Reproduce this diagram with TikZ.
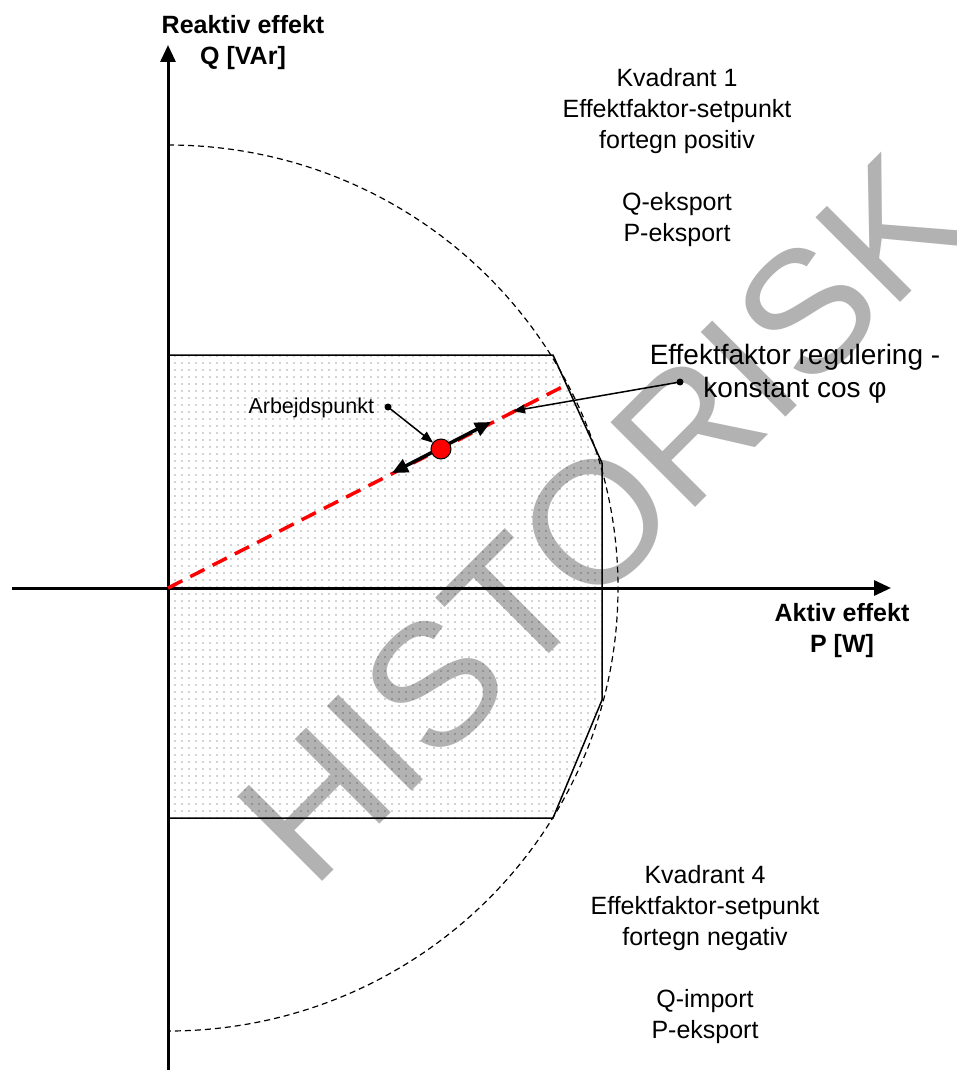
\documentclass[tikz,border=0pt]{standalone}
\usepackage{fontspec}
\setmainfont{Liberation Sans}
\usetikzlibrary{arrows.meta,patterns.meta}
\begin{document}
\begin{tikzpicture}[x=1pt,y=-1pt,
  every node/.style={inner sep=0pt,outer sep=0pt},
  axisline/.style={line width=3pt,-{Triangle[length=17pt,width=15pt]}},
  regionfill/.style={pattern={Dots[distance=7pt,radius=0.85pt]},pattern color=black!35},
  regionline/.style={line width=1.5pt,line join=miter},
  limitcurve/.style={line width=1.2pt,dash pattern=on 6pt off 4pt},
  pfline/.style={red,line width=3.5pt,dash pattern=on 16pt off 9pt},
  movearrow/.style={line width=3.5pt,{Triangle[length=16pt,width=14pt]}-{Triangle[length=16pt,width=14pt]}},
  callout/.style={line width=1.5pt,-{Triangle[length=12pt,width=9pt]}},
  calloutdot/.style={circle,fill=black,minimum size=7pt},
  quadtext/.style={align=center,font=\fontsize{25}{31}\selectfont},
  axistext/.style={align=center,font=\bfseries\fontsize{25}{31}\selectfont},
]
\useasboundingbox (0,0) rectangle (957,1070);
\fill[white] (0,0) rectangle (957,1070);

% operating region
\fill[regionfill] (168,355) -- (553,355) -- (602,463) -- (602,700) -- (553,818) -- (168,818) -- cycle;
\draw[regionline] (168,355) -- (553,355) -- (602,463) -- (602,700) -- (553,818) -- (168,818);

% origin and limit curve
\coordinate (O) at (168,588);
\draw[limitcurve] (O) ++(0,-443) arc[start angle=-90,end angle=90,x radius=450,y radius=443];

% axes
\coordinate (ybot) at (168,1070);
\coordinate (ytop) at (168,45);
\coordinate (xleft) at (12,588);
\coordinate (xright) at (891,588);
\draw[axisline] (ybot) -- (ytop);
\draw[axisline] (xleft) -- (xright);

% constant power factor line
\coordinate (pfend) at (566,385);
\draw[pfline] (O) -- (pfend);

% operating point with movement arrows
\coordinate (mvl) at (392,473);
\coordinate (mvr) at (491,422);
\draw[movearrow] (mvl) -- (mvr);
\node[circle,fill=red,draw=black,line width=1pt,minimum size=20pt] (op) at (441,449) {};

% labels
\node[anchor=north,axistext] (ylab) at (243,15) {Reaktiv effekt\\Q [VAr]};
\node[anchor=north,axistext] (xlab) at (842,603) {Aktiv effekt\\P [W]};
\node[anchor=north,quadtext] (q1) at (677,68) {Kvadrant 1\\Effektfaktor-setpunkt\\fortegn positiv\\[31pt]Q-eksport\\P-eksport};
\node[anchor=north,quadtext] (q4) at (705,865) {Kvadrant 4\\Effektfaktor-setpunkt\\fortegn negativ\\[31pt]Q-import\\P-eksport};
\node[anchor=north,align=center,font=\fontsize{28}{33}\selectfont] (pflab) at (795,344) {Effektfaktor regulering -\\konstant cos φ};
\node[anchor=base east,font=\fontsize{21.5}{26}\selectfont] (oplab) at (374,413) {Arbejdspunkt};

% callouts
\node[calloutdot] (opdot) at (388,407) {};
\draw[callout] (opdot.center) -- (op);
\node[calloutdot] (pfdot) at (680,382) {};
\coordinate (pftip) at (513,411);
\draw[callout] (pfdot.center) -- (pftip);

% watermark
\node[anchor=base west,rotate=45,text=black,text opacity=0.3,font=\fontsize{174}{174}\selectfont] (wm) at (312,891) {HISTORISK};
\end{tikzpicture}
\end{document}
